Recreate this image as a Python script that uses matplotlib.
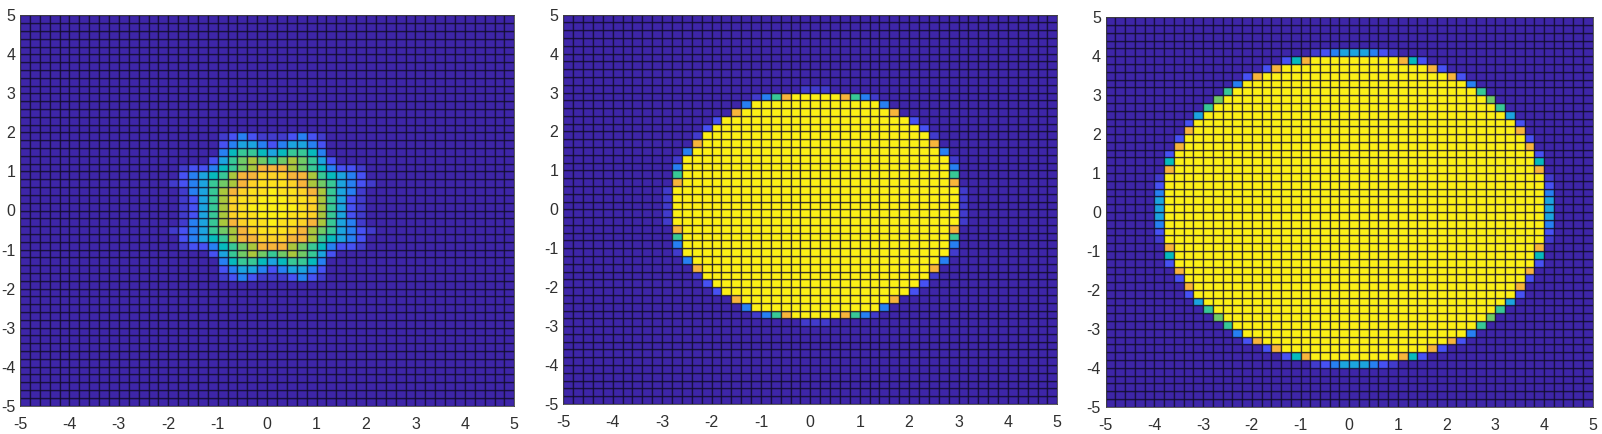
import numpy as np
import matplotlib
matplotlib.use("Agg")
import matplotlib.pyplot as plt
from matplotlib.colors import LinearSegmentedColormap

W, H = 1602, 434

# Parula-like colour anchors (0 .. 1 in steps of 0.1)
parula_colors = [
    (0.2422, 0.1504, 0.6603), (0.2810, 0.3228, 0.9579), (0.1540, 0.5020, 0.9500),
    (0.1085, 0.6469, 0.8734), (0.0265, 0.7283, 0.7358), (0.2161, 0.7843, 0.5923),
    (0.4420, 0.7975, 0.4000), (0.6600, 0.7800, 0.2400), (0.9700, 0.7100, 0.2300),
    (0.9932, 0.8200, 0.1600), (0.9900, 0.9400, 0.0900),
]
cmap = LinearSegmentedColormap.from_list("parula_like", parula_colors)

# Level codes used in the tables below
level_codes = {".": 0.0, "i": 0.05, "1": 0.1, "2": 0.2, "3": 0.3, "4": 0.4, "5": 0.5,
               "6": 0.6, "7": 0.7, "8": 0.8, "9": 0.9, "y": 0.95, "Y": 1.0}

# Each table: rows y = 0, 0.2, 0.4, ... upward; each string gives cells from x = 0 outward.
# The pictures are mirror-symmetric about the centre cell in both directions.
star_rows = [
    "YYYy97531i", "YYyy97531i", "Yyy987532i", "yy98765321i", "9988754321",
    "887654211i", "5676531", "345542", "123321", "ii121i",
]
disc3_rows = [
    "Y" * 15 + "i", "Y" * 15 + "i", "Y" * 15 + "i", "Y" * 14 + "8", "Y" * 14 + "5",
    "Y" * 14 + "2", "Y" * 14 + "i", "Y" * 13 + "2", "Y" * 12 + "8", "Y" * 12 + "i",
    "Y" * 11 + "1", "Y" * 10 + "1", "Y" * 8 + "8", "Y" * 7 + "2", "YYY852i", "ii",
]
disc4_rows = [
    "Y" * 20 + "3", "Y" * 20 + "3", "Y" * 20 + "2", "Y" * 20 + "1", "Y" * 20 + "i",
    "Y" * 19 + "8", "Y" * 19 + "4", "Y" * 19 + "1", "Y" * 18 + "8", "Y" * 18 + "1",
    "Y" * 17 + "8", "Y" * 17 + "1", "Y" * 16 + "3", "Y" * 15 + "5", "Y" * 14 + "6",
    "Y" * 13 + "5", "Y" * 12 + "2", "Y" * 10 + "81", "Y" * 8 + "81", "Y" * 5 + "841",
    "3321i",
]
tick_values = [-5, -4, -3, -2, -1, 0, 1, 2, 3, 4, 5]
tick_labels = ["-5", "-4", "-3", "-2", "-1", "0", "1", "2", "3", "4", "5"]
grid_edges = np.arange(-25, 26) / 5

# Panel boxes in pixels: left, top, right, bottom
panel_boxes = [(20.0, 15.3, 514.3, 405.7), (563.3, 14.7, 1057.3, 404.0), (1105.7, 17.3, 1592.7, 406.7)]
panel_tables = [star_rows, disc3_rows, disc4_rows]


def expand(rows):
    grid = np.zeros((50, 50))
    for r in range(50):
        for c in range(50):
            k, d = abs(r - 25), abs(c - 25)
            if k < len(rows) and d < len(rows[k]):
                grid[r, c] = level_codes[rows[k][d]]
    return grid


plt.rcParams["font.family"] = ["Liberation Sans", "DejaVu Sans"]
fig = plt.figure(figsize=(W / 100, H / 100), dpi=100)
for box, rows in zip(panel_boxes, panel_tables):
    l, t, r, b = box
    ax = fig.add_axes([l / W, 1 - b / H, (r - l) / W, (b - t) / H])
    ax.pcolormesh(grid_edges, grid_edges, expand(rows), cmap=cmap, vmin=0, vmax=1,
                  edgecolors=(0.05, 0.03, 0.15, 0.72), linewidth=0.95, antialiased=True)
    ax.set_xlim(-5, 5)
    ax.set_ylim(-5, 5)
    ax.set_xticks(tick_values, tick_labels)
    ax.set_yticks(tick_values, tick_labels)
    ax.tick_params(length=0, labelsize=11.5, labelcolor="#303030")
    ax.tick_params(axis="y", pad=3.5)
    ax.tick_params(axis="x", pad=8)
    for s in ax.spines.values():
        s.set_linewidth(0.6)
        s.set_color("#404040")
fig.savefig("out.png", dpi=100)
